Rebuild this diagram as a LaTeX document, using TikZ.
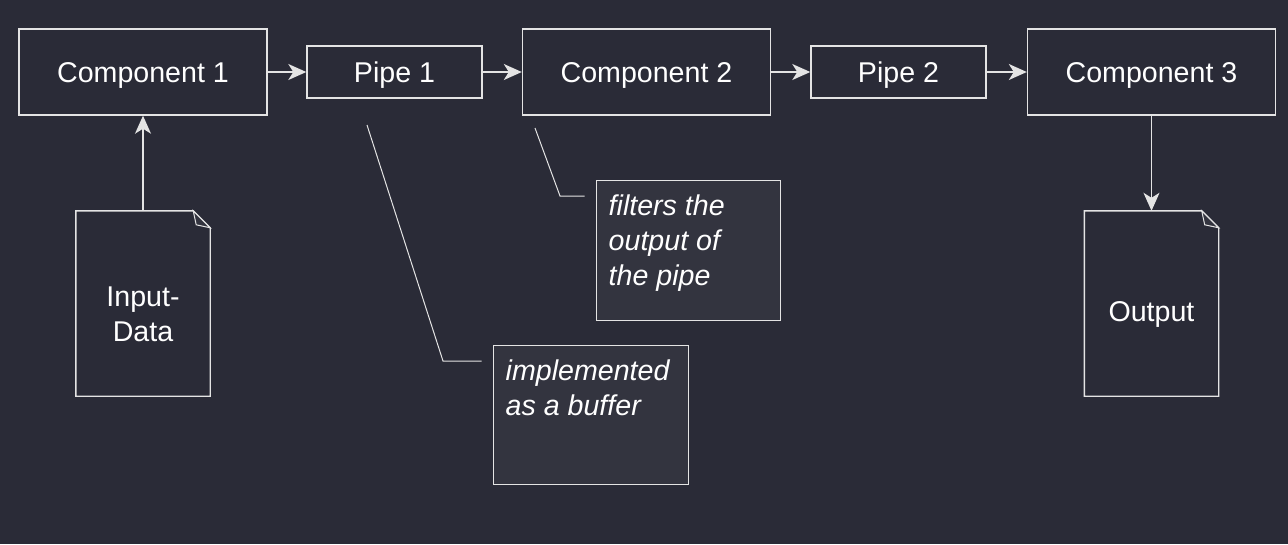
\documentclass[tikz,border=0pt]{standalone}
\usepackage{fontspec}
\setmainfont{Liberation Sans}
\usetikzlibrary{arrows.meta,positioning}

\definecolor{bgcol}{HTML}{2A2B37}
\definecolor{notecol}{HTML}{33343F}
\definecolor{linecol}{HTML}{E4E4E4}

\tikzset{
  block/.style={draw=linecol, line width=1.4pt, text=white,
    minimum width=248pt, minimum height=86pt, inner sep=0pt,
    text height=27pt, text depth=6pt,
    font=\fontsize{28.6}{35}\selectfont},
  pipebox/.style={block, minimum width=175pt, minimum height=52pt},
  docbox/.style={minimum width=134pt, minimum height=185pt, inner sep=0pt},
  doctext/.style={text=white, align=center, inner sep=0pt,
    font=\fontsize{28.6}{35}\selectfont},
  notebox/.style={draw=linecol, fill=notecol, line width=1pt, inner sep=0pt},
  notetext/.style={text=white, align=left, inner sep=0pt,
    font=\fontsize{28.6}{35}\selectfont\itshape},
  flow/.style={draw=linecol, line width=1.4pt,
    -{Stealth[length=18pt,width=16pt,inset=5pt]}},
  leader/.style={draw=linecol, line width=1pt}
}

\begin{document}
\begin{tikzpicture}[x=1pt, y=-1pt]
  \fill[bgcol] (0,0) rectangle (1288,544);
  \useasboundingbox (0,0) rectangle (1288,544);

  % components and pipes
  \node[block] (comp1) at (143,72) {Component 1};
  \node[pipebox] (pipe1) at (394.5,72) {Pipe 1};
  \node[block] (comp2) at (646.5,72) {Component 2};
  \node[pipebox] (pipe2) at (898.5,72) {Pipe 2};
  \node[block] (comp3) at (1151.5,72) {Component 3};

  \draw[flow] (comp1) -- (pipe1);
  \draw[flow] (pipe1) -- (comp2);
  \draw[flow] (comp2) -- (pipe2);
  \draw[flow] (pipe2) -- (comp3);

  % documents
  \node[docbox] (input) at (143,303.5) {};
  \node[docbox] (output) at (1151.5,303.5) {};
  \foreach \d in {input,output}{
    \draw[draw=linecol, line width=1.4pt]
      (\d.north west) -- ([xshift=-17pt]\d.north east)
      -- ([yshift=-17pt]\d.north east) -- (\d.south east)
      -- (\d.south west) -- cycle;
    \draw[draw=linecol, fill=notecol, line width=1pt]
      ([xshift=-17pt]\d.north east) -- ([xshift=-14pt,yshift=-14pt]\d.north east)
      -- ([yshift=-17pt]\d.north east) -- cycle;
  }
  \node[doctext] (inputtxt) at ([yshift=-11pt]input.center) {Input-\\Data};
  \node[doctext] (outputtxt) at ([yshift=-11pt]output.center) {Output};

  \draw[flow] (input.north) -- (comp1.south);
  \draw[flow] (comp3.south) -- (output.north);

  % notes
  \node[notebox, minimum width=184pt, minimum height=140pt] (note1) at (688,250) {};
  \node[notetext, anchor=north west] (note1txt)
    at ([shift={(13,15.5)}]note1.north west) {filters the\\output of\\the pipe};
  \node[notebox, minimum width=195pt, minimum height=139pt] (note2) at (590.5,414.5) {};
  \node[notetext, anchor=north west] (note2txt)
    at ([shift={(13,15.5)}]note2.north west) {implemented\\as a buffer};

  \coordinate (lead1) at (535,128);
  \coordinate (lead2) at (367,125);
  \draw[leader] (lead1) -- (560,196) -- ([xshift=-11pt]note1.west |- 0,196);
  \draw[leader] (lead2) -- (443,361) -- ([xshift=-11pt]note2.west |- 0,361);
\end{tikzpicture}
\end{document}
